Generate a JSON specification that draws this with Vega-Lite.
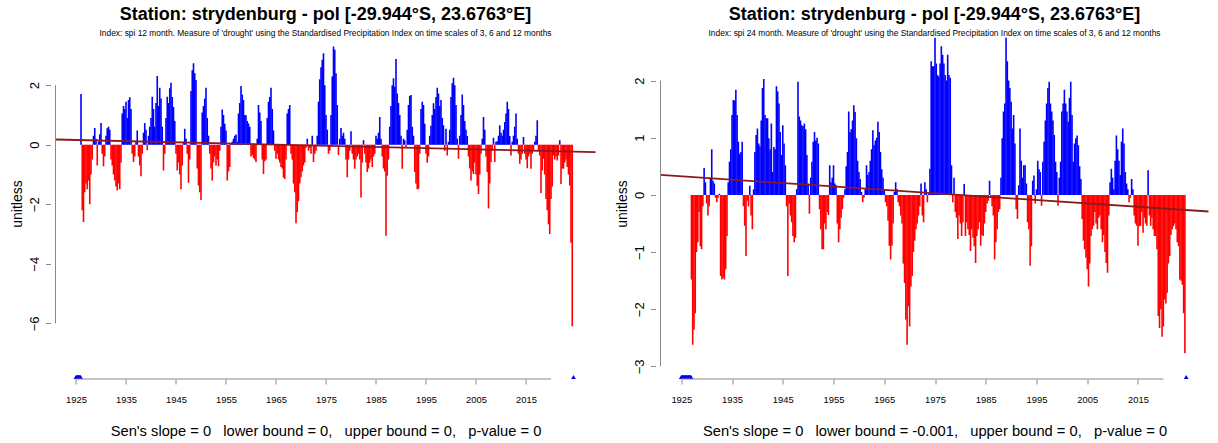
{
  "$schema": "https://vega.github.io/schema/vega-lite/v6.json",
  "background": "white",
  "padding": {"left": 9.5, "top": 5, "right": 0, "bottom": 0},
  "spacing": 15,
  "config": {
    "view": {"stroke": null},
    "font": "Liberation Sans",
    "axis": {"grid": false, "domain": false, "tickColor": "#888", "tickSize": 5, "labelColor": "#000", "titleColor": "#000", "titleFontWeight": "normal", "labelFont": "Liberation Sans", "titleFont": "Liberation Sans"},
    "axisX": {"labelFontSize": 9.4, "labelPadding": 11, "titleFontSize": 14.7, "titlePadding": 20, "labelFlush": false},
    "axisY": {"labelFontSize": 13, "labelAngle": -90, "labelPadding": 4, "titleFontSize": 14, "titlePadding": 4, "format": "d"},
    "title": {"fontSize": 18, "fontWeight": "bold", "subtitleFontSize": 8.4, "anchor": "middle", "offset": -9, "subtitlePadding": 5, "color": "#000", "subtitleColor": "#000", "font": "Liberation Sans", "subtitleFont": "Liberation Sans"}
  },
  "datasets": {
    "spi12": [
      {"t":1926.00,"v":1.7},{"t":1926.25,"v":-2.2},{"t":1926.50,"v":-2.6},{"t":1926.75,"v":-1.6},
      {"t":1927.00,"v":-1.3},{"t":1927.25,"v":-1.5},{"t":1927.50,"v":-1.2},{"t":1927.75,"v":-2.0},
      {"t":1928.00,"v":-1.0},{"t":1928.25,"v":-0.5},{"t":1928.50,"v":0.3},{"t":1928.75,"v":0.56},
      {"t":1929.00,"v":0.2},{"t":1929.25,"v":-0.7},{"t":1929.50,"v":0.1},{"t":1929.75,"v":0.35},
      {"t":1930.00,"v":0.73},{"t":1930.25,"v":-0.3},{"t":1930.50,"v":-0.72},{"t":1930.75,"v":-0.4},
      {"t":1931.00,"v":0.3},{"t":1931.25,"v":0.55},{"t":1931.50,"v":0.6},{"t":1931.75,"v":0.5},
      {"t":1932.00,"v":-0.5},{"t":1932.25,"v":-0.7},{"t":1932.50,"v":-1.0},{"t":1932.75,"v":-1.2},
      {"t":1933.00,"v":-1.4},{"t":1933.25,"v":-1.54},{"t":1933.50,"v":-1.3},{"t":1933.75,"v":-1.5},
      {"t":1934.00,"v":-0.6},{"t":1934.25,"v":1.05},{"t":1934.50,"v":1.3},{"t":1934.75,"v":1.2},
      {"t":1935.00,"v":1.44},{"t":1935.25,"v":0.9},{"t":1935.50,"v":1.5},{"t":1935.75,"v":1.59},
      {"t":1936.00,"v":1.2},{"t":1936.25,"v":-0.3},{"t":1936.50,"v":-0.58},{"t":1936.75,"v":-0.4},
      {"t":1937.00,"v":0.1},{"t":1937.25,"v":0.48},{"t":1937.50,"v":-0.4},{"t":1937.75,"v":-0.7},
      {"t":1938.00,"v":-1.06},{"t":1938.25,"v":-0.3},{"t":1938.50,"v":0.4},{"t":1938.75,"v":0.73},
      {"t":1939.00,"v":0.5},{"t":1939.25,"v":-0.19},{"t":1939.50,"v":0.3},{"t":1939.75,"v":0.6},
      {"t":1940.00,"v":0.9},{"t":1940.25,"v":1.61},{"t":1940.50,"v":1.2},{"t":1940.75,"v":0.6},
      {"t":1941.00,"v":1.4},{"t":1941.25,"v":2.31},{"t":1941.50,"v":1.3},{"t":1941.75,"v":1.91},
      {"t":1942.00,"v":1.55},{"t":1942.25,"v":0.6},{"t":1942.50,"v":-0.87},{"t":1942.75,"v":-0.3},
      {"t":1943.00,"v":0.9},{"t":1943.25,"v":1.61},{"t":1943.50,"v":1.4},{"t":1943.75,"v":1.9},
      {"t":1944.00,"v":2.08},{"t":1944.25,"v":1.6},{"t":1944.50,"v":1.27},{"t":1944.75,"v":0.8},
      {"t":1945.00,"v":-0.3},{"t":1945.25,"v":-0.87},{"t":1945.50,"v":-0.6},{"t":1945.75,"v":-1.0},
      {"t":1946.00,"v":-1.5},{"t":1946.25,"v":-0.7},{"t":1946.50,"v":0.1},{"t":1946.75,"v":0.54},
      {"t":1947.00,"v":0.2},{"t":1947.25,"v":-0.3},{"t":1947.50,"v":-1.28},{"t":1947.75,"v":-0.5},
      {"t":1948.00,"v":1.8},{"t":1948.25,"v":2.5},{"t":1948.50,"v":2.74},{"t":1948.75,"v":2.4},
      {"t":1949.00,"v":2.17},{"t":1949.25,"v":-0.8},{"t":1949.50,"v":-1.37},{"t":1949.75,"v":-1.6},
      {"t":1950.00,"v":-1.86},{"t":1950.25,"v":1.08},{"t":1950.50,"v":1.3},{"t":1950.75,"v":1.55},
      {"t":1951.00,"v":1.91},{"t":1951.25,"v":0.9},{"t":1951.50,"v":0.3},{"t":1951.75,"v":-0.3},
      {"t":1952.00,"v":-0.8},{"t":1952.25,"v":-1.2},{"t":1952.50,"v":-0.6},{"t":1952.75,"v":-0.4},
      {"t":1953.00,"v":-0.7},{"t":1953.25,"v":-0.5},{"t":1953.50,"v":-0.72},{"t":1953.75,"v":-0.2},
      {"t":1954.00,"v":0.6},{"t":1954.25,"v":1.18},{"t":1954.50,"v":1.0},{"t":1954.75,"v":0.7},
      {"t":1955.00,"v":0.48},{"t":1955.25,"v":-1.2},{"t":1955.50,"v":-0.9},{"t":1955.75,"v":-0.75},
      {"t":1956.00,"v":0.05},{"t":1956.25,"v":0.1},{"t":1956.50,"v":0.2},{"t":1956.75,"v":0.3},
      {"t":1957.00,"v":0.34},{"t":1957.25,"v":0.1},{"t":1957.50,"v":1.05},{"t":1957.75,"v":1.4},
      {"t":1958.00,"v":1.97},{"t":1958.25,"v":1.69},{"t":1958.50,"v":1.5},{"t":1958.75,"v":1.0},
      {"t":1959.00,"v":0.99},{"t":1959.25,"v":0.8},{"t":1959.50,"v":0.71},{"t":1959.75,"v":0.6},
      {"t":1960.00,"v":-0.4},{"t":1960.25,"v":-0.35},{"t":1960.50,"v":-0.45},{"t":1960.75,"v":-0.5},
      {"t":1961.00,"v":-0.58},{"t":1961.25,"v":0.2},{"t":1961.50,"v":1.33},{"t":1961.75,"v":1.08},
      {"t":1962.00,"v":0.8},{"t":1962.25,"v":-0.5},{"t":1962.50,"v":-0.98},{"t":1962.75,"v":-0.56},
      {"t":1963.00,"v":-0.5},{"t":1963.25,"v":0.9},{"t":1963.50,"v":1.44},{"t":1963.75,"v":1.6},
      {"t":1964.00,"v":1.91},{"t":1964.25,"v":1.2},{"t":1964.50,"v":0.48},{"t":1964.75,"v":-0.2},
      {"t":1965.00,"v":-0.47},{"t":1965.25,"v":-0.3},{"t":1965.50,"v":-0.5},{"t":1965.75,"v":-0.6},
      {"t":1966.00,"v":-0.75},{"t":1966.25,"v":-0.8},{"t":1966.50,"v":-1.1},{"t":1966.75,"v":-1.15},
      {"t":1967.00,"v":-0.5},{"t":1967.25,"v":1.05},{"t":1967.50,"v":1.2},{"t":1967.75,"v":1.33},
      {"t":1968.00,"v":-0.3},{"t":1968.25,"v":-0.5},{"t":1968.50,"v":-1.3},{"t":1968.75,"v":-1.6},
      {"t":1969.00,"v":-2.64},{"t":1969.25,"v":-2.27},{"t":1969.50,"v":-1.9},{"t":1969.75,"v":-1.3},
      {"t":1970.00,"v":-1.09},{"t":1970.25,"v":-0.9},{"t":1970.50,"v":-0.7},{"t":1970.75,"v":-0.6},
      {"t":1971.00,"v":-0.1},{"t":1971.25,"v":0.2},{"t":1971.50,"v":-0.2},{"t":1971.75,"v":-0.1},
      {"t":1972.00,"v":-0.3},{"t":1972.25,"v":0.3},{"t":1972.50,"v":-0.58},{"t":1972.75,"v":-0.3},
      {"t":1973.00,"v":-0.2},{"t":1973.25,"v":0.3},{"t":1973.50,"v":1.44},{"t":1973.75,"v":2.2},
      {"t":1974.00,"v":2.6},{"t":1974.25,"v":2.85},{"t":1974.50,"v":3.07},{"t":1974.75,"v":2.0},
      {"t":1975.00,"v":1.0},{"t":1975.25,"v":0.5},{"t":1975.50,"v":-0.3},{"t":1975.75,"v":-0.2},
      {"t":1976.00,"v":1.0},{"t":1976.25,"v":2.29},{"t":1976.50,"v":3.3},{"t":1976.75,"v":3.19},
      {"t":1977.00,"v":2.4},{"t":1977.25,"v":1.33},{"t":1977.50,"v":-0.35},{"t":1977.75,"v":0.2},
      {"t":1978.00,"v":0.56},{"t":1978.25,"v":0.3},{"t":1978.50,"v":0.4},{"t":1978.75,"v":0.2},
      {"t":1979.00,"v":-0.5},{"t":1979.25,"v":-1.09},{"t":1979.50,"v":-0.5},{"t":1979.75,"v":-0.2},
      {"t":1980.00,"v":0.45},{"t":1980.25,"v":-0.3},{"t":1980.50,"v":-0.5},{"t":1980.75,"v":-0.81},
      {"t":1981.00,"v":-0.5},{"t":1981.25,"v":-0.4},{"t":1981.50,"v":-0.3},{"t":1981.75,"v":-0.5},
      {"t":1982.00,"v":-1.77},{"t":1982.25,"v":-0.6},{"t":1982.50,"v":0.15},{"t":1982.75,"v":-0.3},
      {"t":1983.00,"v":-0.6},{"t":1983.25,"v":-0.92},{"t":1983.50,"v":-0.8},{"t":1983.75,"v":-0.6},
      {"t":1984.00,"v":-0.5},{"t":1984.25,"v":-0.75},{"t":1984.50,"v":-0.4},{"t":1984.75,"v":-0.3},
      {"t":1985.00,"v":0.3},{"t":1985.25,"v":0.2},{"t":1985.50,"v":0.4},{"t":1985.75,"v":0.93},
      {"t":1986.00,"v":0.2},{"t":1986.25,"v":-0.4},{"t":1986.50,"v":-0.8},{"t":1986.75,"v":-0.9},
      {"t":1987.00,"v":-3.06},{"t":1987.25,"v":-1.04},{"t":1987.50,"v":-0.5},{"t":1987.75,"v":0.6},
      {"t":1988.00,"v":1.3},{"t":1988.25,"v":2.0},{"t":1988.50,"v":2.23},{"t":1988.75,"v":1.95},
      {"t":1989.00,"v":2.88},{"t":1989.25,"v":1.72},{"t":1989.50,"v":1.4},{"t":1989.75,"v":1.0},
      {"t":1990.00,"v":0.3},{"t":1990.25,"v":-0.81},{"t":1990.50,"v":0.2},{"t":1990.75,"v":0.15},
      {"t":1991.00,"v":-0.1},{"t":1991.25,"v":0.5},{"t":1991.50,"v":1.33},{"t":1991.75,"v":1.64},
      {"t":1992.00,"v":1.67},{"t":1992.25,"v":0.6},{"t":1992.50,"v":0.3},{"t":1992.75,"v":-0.92},
      {"t":1993.00,"v":-1.3},{"t":1993.25,"v":-1.5},{"t":1993.50,"v":-1.48},{"t":1993.75,"v":-0.3},
      {"t":1994.00,"v":1.2},{"t":1994.25,"v":1.44},{"t":1994.50,"v":1.33},{"t":1994.75,"v":0.7},
      {"t":1995.00,"v":-0.3},{"t":1995.25,"v":-0.61},{"t":1995.50,"v":-0.4},{"t":1995.75,"v":0.3},
      {"t":1996.00,"v":0.64},{"t":1996.25,"v":1.0},{"t":1996.50,"v":1.39},{"t":1996.75,"v":1.2},
      {"t":1997.00,"v":1.6},{"t":1997.25,"v":1.91},{"t":1997.50,"v":1.72},{"t":1997.75,"v":1.3},
      {"t":1998.00,"v":1.5},{"t":1998.25,"v":0.9},{"t":1998.50,"v":0.65},{"t":1998.75,"v":-0.2},
      {"t":1999.00,"v":0.54},{"t":1999.25,"v":-0.36},{"t":1999.50,"v":0.1},{"t":1999.75,"v":0.5},
      {"t":2000.00,"v":1.6},{"t":2000.25,"v":2.06},{"t":2000.50,"v":2.25},{"t":2000.75,"v":2.0},
      {"t":2001.00,"v":1.33},{"t":2001.25,"v":0.2},{"t":2001.50,"v":-0.47},{"t":2001.75,"v":0.3},
      {"t":2002.00,"v":1.0},{"t":2002.25,"v":1.69},{"t":2002.50,"v":1.33},{"t":2002.75,"v":0.8},
      {"t":2003.00,"v":0.5},{"t":2003.25,"v":0.29},{"t":2003.50,"v":-0.4},{"t":2003.75,"v":-0.8},
      {"t":2004.00,"v":-1.2},{"t":2004.25,"v":-0.9},{"t":2004.50,"v":-0.98},{"t":2004.75,"v":-0.6},
      {"t":2005.00,"v":-1.0},{"t":2005.25,"v":-1.38},{"t":2005.50,"v":-1.66},{"t":2005.75,"v":-1.0},
      {"t":2006.00,"v":-0.3},{"t":2006.25,"v":0.2},{"t":2006.50,"v":0.93},{"t":2006.75,"v":0.5},
      {"t":2007.00,"v":-0.4},{"t":2007.25,"v":-0.92},{"t":2007.50,"v":-2.14},{"t":2007.75,"v":-1.3},
      {"t":2008.00,"v":-0.58},{"t":2008.25,"v":-0.2},{"t":2008.50,"v":0.23},{"t":2008.75,"v":-0.58},
      {"t":2009.00,"v":0.1},{"t":2009.25,"v":0.12},{"t":2009.50,"v":0.3},{"t":2009.75,"v":0.65},
      {"t":2010.00,"v":0.4},{"t":2010.25,"v":0.3},{"t":2010.50,"v":0.5},{"t":2010.75,"v":0.76},
      {"t":2011.00,"v":1.05},{"t":2011.25,"v":1.44},{"t":2011.50,"v":1.2},{"t":2011.75,"v":0.29},
      {"t":2012.00,"v":-0.36},{"t":2012.25,"v":0.1},{"t":2012.50,"v":0.3},{"t":2012.75,"v":0.6},
      {"t":2013.00,"v":1.05},{"t":2013.25,"v":0.2},{"t":2013.50,"v":-0.3},{"t":2013.75,"v":-0.64},
      {"t":2014.00,"v":-0.5},{"t":2014.25,"v":-0.3},{"t":2014.50,"v":0.26},{"t":2014.75,"v":-0.3},
      {"t":2015.00,"v":-0.5},{"t":2015.25,"v":-0.79},{"t":2015.50,"v":-0.4},{"t":2015.75,"v":-0.3},
      {"t":2016.00,"v":-0.81},{"t":2016.25,"v":-0.3},{"t":2016.50,"v":-0.2},{"t":2016.75,"v":0.1},
      {"t":2017.00,"v":0.3},{"t":2017.25,"v":0.82},{"t":2017.50,"v":-0.2},{"t":2017.75,"v":-0.36},
      {"t":2018.00,"v":-1.62},{"t":2018.25,"v":-0.87},{"t":2018.50,"v":-0.47},{"t":2018.75,"v":-1.0},
      {"t":2019.00,"v":-1.82},{"t":2019.25,"v":-2.2},{"t":2019.50,"v":-2.67},{"t":2019.75,"v":-3.0},
      {"t":2020.00,"v":-1.82},{"t":2020.25,"v":-1.4},{"t":2020.50,"v":-0.36},{"t":2020.75,"v":-0.5},
      {"t":2021.00,"v":-0.4},{"t":2021.25,"v":-0.53},{"t":2021.50,"v":-0.36},{"t":2021.75,"v":0.15},
      {"t":2022.00,"v":-1.32},{"t":2022.25,"v":-0.8},{"t":2022.50,"v":-0.81},{"t":2022.75,"v":-0.6},
      {"t":2023.00,"v":-0.5},{"t":2023.25,"v":-0.75},{"t":2023.50,"v":-1.0},{"t":2023.75,"v":-1.37},
      {"t":2024.00,"v":-3.29},{"t":2024.25,"v":-6.1}
    ],
    "spi24": [
      {"t":1927.00,"v":-1.48},{"t":1927.25,"v":-2.62},{"t":1927.50,"v":-2.36},{"t":1927.75,"v":-2.07},
      {"t":1928.00,"v":-1.0},{"t":1928.25,"v":-0.83},{"t":1928.50,"v":-0.3},{"t":1928.75,"v":-0.9},
      {"t":1929.00,"v":-0.95},{"t":1929.25,"v":-0.2},{"t":1929.50,"v":0.47},{"t":1929.75,"v":0.22},
      {"t":1930.00,"v":-0.15},{"t":1930.25,"v":-0.36},{"t":1930.50,"v":-0.2},{"t":1930.75,"v":0.3},
      {"t":1931.00,"v":0.8},{"t":1931.25,"v":0.25},{"t":1931.50,"v":0.2},{"t":1931.75,"v":-0.05},
      {"t":1932.00,"v":-0.13},{"t":1932.25,"v":-0.05},{"t":1932.50,"v":0.02},{"t":1932.75,"v":-1.42},
      {"t":1933.00,"v":-1.48},{"t":1933.25,"v":-1.45},{"t":1933.50,"v":-1.48},{"t":1933.75,"v":-1.3},
      {"t":1934.00,"v":-0.72},{"t":1934.25,"v":0.22},{"t":1934.50,"v":0.58},{"t":1934.75,"v":0.8},
      {"t":1935.00,"v":1.4},{"t":1935.25,"v":1.66},{"t":1935.50,"v":1.65},{"t":1935.75,"v":1.84},
      {"t":1936.00,"v":1.4},{"t":1936.25,"v":0.93},{"t":1936.50,"v":0.72},{"t":1936.75,"v":0.75},
      {"t":1937.00,"v":0.93},{"t":1937.25,"v":-0.2},{"t":1937.50,"v":-0.54},{"t":1937.75,"v":-1.07},
      {"t":1938.00,"v":-0.1},{"t":1938.25,"v":-0.2},{"t":1938.50,"v":0.16},{"t":1938.75,"v":-0.36},
      {"t":1939.00,"v":-0.6},{"t":1939.25,"v":0.1},{"t":1939.50,"v":0.75},{"t":1939.75,"v":1.05},
      {"t":1940.00,"v":1.16},{"t":1940.25,"v":0.9},{"t":1940.50,"v":0.85},{"t":1940.75,"v":1.3},
      {"t":1941.00,"v":1.87},{"t":1941.25,"v":2.03},{"t":1941.50,"v":1.4},{"t":1941.75,"v":1.34},
      {"t":1942.00,"v":1.34},{"t":1942.25,"v":0.99},{"t":1942.50,"v":0.8},{"t":1942.75,"v":1.25},
      {"t":1943.00,"v":0.4},{"t":1943.25,"v":0.84},{"t":1943.50,"v":0.8},{"t":1943.75,"v":1.9},
      {"t":1944.00,"v":1.81},{"t":1944.25,"v":1.6},{"t":1944.50,"v":1.1},{"t":1944.75,"v":0.7},
      {"t":1945.00,"v":1.22},{"t":1945.25,"v":0.9},{"t":1945.50,"v":0.52},{"t":1945.75,"v":-0.2},
      {"t":1946.00,"v":-1.42},{"t":1946.25,"v":-0.15},{"t":1946.50,"v":-0.36},{"t":1946.75,"v":-0.48},
      {"t":1947.00,"v":-0.72},{"t":1947.25,"v":-0.83},{"t":1947.50,"v":-0.75},{"t":1947.75,"v":0.1},
      {"t":1948.00,"v":1.98},{"t":1948.25,"v":1.37},{"t":1948.50,"v":1.3},{"t":1948.75,"v":1.22},
      {"t":1949.00,"v":1.2},{"t":1949.25,"v":1.25},{"t":1949.50,"v":1.15},{"t":1949.75,"v":0.7},
      {"t":1950.00,"v":0.2},{"t":1950.25,"v":-0.33},{"t":1950.50,"v":0.3},{"t":1950.75,"v":0.58},
      {"t":1951.00,"v":0.93},{"t":1951.25,"v":1.1},{"t":1951.50,"v":0.95},{"t":1951.75,"v":1.0},
      {"t":1952.00,"v":0.9},{"t":1952.25,"v":-0.25},{"t":1952.50,"v":-0.6},{"t":1952.75,"v":-0.95},
      {"t":1953.00,"v":-0.95},{"t":1953.25,"v":-0.5},{"t":1953.50,"v":-0.6},{"t":1953.75,"v":-0.3},
      {"t":1954.00,"v":-0.35},{"t":1954.25,"v":0.52},{"t":1954.50,"v":0.22},{"t":1954.75,"v":0.3},
      {"t":1955.00,"v":0.52},{"t":1955.25,"v":0.2},{"t":1955.50,"v":0.17},{"t":1955.75,"v":-0.5},
      {"t":1956.00,"v":-0.83},{"t":1956.25,"v":-0.6},{"t":1956.50,"v":-0.4},{"t":1956.75,"v":-0.25},
      {"t":1957.00,"v":-0.05},{"t":1957.25,"v":0.1},{"t":1957.50,"v":0.5},{"t":1957.75,"v":0.75},
      {"t":1958.00,"v":1.46},{"t":1958.25,"v":1.1},{"t":1958.50,"v":1.15},{"t":1958.75,"v":1.3},
      {"t":1959.00,"v":1.57},{"t":1959.25,"v":1.45},{"t":1959.50,"v":0.99},{"t":1959.75,"v":0.6},
      {"t":1960.00,"v":0.4},{"t":1960.25,"v":0.28},{"t":1960.50,"v":0.05},{"t":1960.75,"v":-0.13},
      {"t":1961.00,"v":-0.05},{"t":1961.25,"v":0.1},{"t":1961.50,"v":0.52},{"t":1961.75,"v":0.35},
      {"t":1962.00,"v":0.4},{"t":1962.25,"v":0.6},{"t":1962.50,"v":0.8},{"t":1962.75,"v":1.13},
      {"t":1963.00,"v":0.87},{"t":1963.25,"v":0.95},{"t":1963.50,"v":1.0},{"t":1963.75,"v":1.28},
      {"t":1964.00,"v":1.1},{"t":1964.25,"v":0.75},{"t":1964.50,"v":0.45},{"t":1964.75,"v":0.3},
      {"t":1965.00,"v":0.1},{"t":1965.25,"v":-0.13},{"t":1965.50,"v":-0.2},{"t":1965.75,"v":-0.45},
      {"t":1966.00,"v":-0.89},{"t":1966.25,"v":-1.13},{"t":1966.50,"v":-0.89},{"t":1966.75,"v":-0.5},
      {"t":1967.00,"v":0.05},{"t":1967.25,"v":0.22},{"t":1967.50,"v":0.1},{"t":1967.75,"v":-0.13},
      {"t":1968.00,"v":-0.2},{"t":1968.25,"v":-0.36},{"t":1968.50,"v":-0.5},{"t":1968.75,"v":-1.2},
      {"t":1969.00,"v":-1.54},{"t":1969.25,"v":-2.18},{"t":1969.50,"v":-2.62},{"t":1969.75,"v":-1.95},
      {"t":1970.00,"v":-2.3},{"t":1970.25,"v":-1.6},{"t":1970.50,"v":-1.42},{"t":1970.75,"v":-1.0},
      {"t":1971.00,"v":-0.8},{"t":1971.25,"v":-0.6},{"t":1971.50,"v":-0.5},{"t":1971.75,"v":-0.36},
      {"t":1972.00,"v":-0.2},{"t":1972.25,"v":0.2},{"t":1972.50,"v":-0.36},{"t":1972.75,"v":-0.48},
      {"t":1973.00,"v":0.22},{"t":1973.25,"v":0.1},{"t":1973.50,"v":-0.13},{"t":1973.75,"v":0.02},
      {"t":1974.00,"v":0.46},{"t":1974.25,"v":2.34},{"t":1974.50,"v":2.25},{"t":1974.75,"v":2.25},
      {"t":1975.00,"v":2.75},{"t":1975.25,"v":2.3},{"t":1975.50,"v":2.1},{"t":1975.75,"v":2.07},
      {"t":1976.00,"v":2.3},{"t":1976.25,"v":2.6},{"t":1976.50,"v":2.45},{"t":1976.75,"v":2.3},
      {"t":1977.00,"v":2.1},{"t":1977.25,"v":2.0},{"t":1977.50,"v":2.45},{"t":1977.75,"v":2.1},
      {"t":1978.00,"v":2.05},{"t":1978.25,"v":0.52},{"t":1978.50,"v":-0.13},{"t":1978.75,"v":0.3},
      {"t":1979.00,"v":-0.3},{"t":1979.25,"v":-0.4},{"t":1979.50,"v":-0.77},{"t":1979.75,"v":-0.36},
      {"t":1980.00,"v":-0.5},{"t":1980.25,"v":-0.72},{"t":1980.50,"v":-0.48},{"t":1980.75,"v":0.19},
      {"t":1981.00,"v":-0.72},{"t":1981.25,"v":-0.48},{"t":1981.50,"v":-0.6},{"t":1981.75,"v":-0.7},
      {"t":1982.00,"v":-0.98},{"t":1982.25,"v":-0.6},{"t":1982.50,"v":-0.75},{"t":1982.75,"v":-0.9},
      {"t":1983.00,"v":-1.19},{"t":1983.25,"v":-0.72},{"t":1983.50,"v":-0.6},{"t":1983.75,"v":-0.48},
      {"t":1984.00,"v":-0.89},{"t":1984.25,"v":-0.7},{"t":1984.50,"v":-0.72},{"t":1984.75,"v":-0.5},
      {"t":1985.00,"v":-0.3},{"t":1985.25,"v":-0.15},{"t":1985.50,"v":-0.1},{"t":1985.75,"v":0.25},
      {"t":1986.00,"v":-0.05},{"t":1986.25,"v":-0.2},{"t":1986.50,"v":-0.36},{"t":1986.75,"v":-1.13},
      {"t":1987.00,"v":-0.83},{"t":1987.25,"v":-0.6},{"t":1987.50,"v":-0.3},{"t":1987.75,"v":-0.25},
      {"t":1988.00,"v":0.3},{"t":1988.25,"v":0.99},{"t":1988.50,"v":1.46},{"t":1988.75,"v":1.6},
      {"t":1989.00,"v":2.75},{"t":1989.25,"v":2.34},{"t":1989.50,"v":2.0},{"t":1989.75,"v":1.87},
      {"t":1990.00,"v":1.63},{"t":1990.25,"v":1.16},{"t":1990.50,"v":1.4},{"t":1990.75,"v":0.9},
      {"t":1991.00,"v":-0.25},{"t":1991.25,"v":-0.42},{"t":1991.50,"v":0.17},{"t":1991.75,"v":1.16},
      {"t":1992.00,"v":0.6},{"t":1992.25,"v":0.3},{"t":1992.50,"v":0.52},{"t":1992.75,"v":0.52},
      {"t":1993.00,"v":0.2},{"t":1993.25,"v":-0.48},{"t":1993.50,"v":-0.6},{"t":1993.75,"v":-1.24},
      {"t":1994.00,"v":-0.9},{"t":1994.25,"v":0.25},{"t":1994.50,"v":0.34},{"t":1994.75,"v":-0.15},
      {"t":1995.00,"v":0.1},{"t":1995.25,"v":0.6},{"t":1995.50,"v":0.45},{"t":1995.75,"v":0.4},
      {"t":1996.00,"v":-0.19},{"t":1996.25,"v":0.58},{"t":1996.50,"v":0.93},{"t":1996.75,"v":1.3},
      {"t":1997.00,"v":1.6},{"t":1997.25,"v":1.87},{"t":1997.50,"v":1.98},{"t":1997.75,"v":1.6},
      {"t":1998.00,"v":1.46},{"t":1998.25,"v":1.3},{"t":1998.50,"v":1.05},{"t":1998.75,"v":0.58},
      {"t":1999.00,"v":0.4},{"t":1999.25,"v":-0.19},{"t":1999.50,"v":0.3},{"t":1999.75,"v":0.58},
      {"t":2000.00,"v":1.46},{"t":2000.25,"v":1.6},{"t":2000.50,"v":1.84},{"t":2000.75,"v":1.6},
      {"t":2001.00,"v":1.46},{"t":2001.25,"v":1.28},{"t":2001.50,"v":1.7},{"t":2001.75,"v":1.98},
      {"t":2002.00,"v":1.4},{"t":2002.25,"v":0.58},{"t":2002.50,"v":0.9},{"t":2002.75,"v":0.99},
      {"t":2003.00,"v":1.04},{"t":2003.25,"v":0.87},{"t":2003.50,"v":0.5},{"t":2003.75,"v":0.28},
      {"t":2004.00,"v":-0.42},{"t":2004.25,"v":-0.8},{"t":2004.50,"v":-0.95},{"t":2004.75,"v":-1.1},
      {"t":2005.00,"v":-1.3},{"t":2005.25,"v":-1.6},{"t":2005.50,"v":-1.2},{"t":2005.75,"v":-0.72},
      {"t":2006.00,"v":-0.6},{"t":2006.25,"v":-0.54},{"t":2006.50,"v":-0.3},{"t":2006.75,"v":-0.5},
      {"t":2007.00,"v":-0.6},{"t":2007.25,"v":-0.4},{"t":2007.50,"v":-0.36},{"t":2007.75,"v":-0.6},
      {"t":2008.00,"v":-0.83},{"t":2008.25,"v":-0.7},{"t":2008.50,"v":-1.0},{"t":2008.75,"v":-1.19},
      {"t":2009.00,"v":-1.36},{"t":2009.25,"v":-0.36},{"t":2009.50,"v":0.22},{"t":2009.75,"v":0.46},
      {"t":2010.00,"v":0.3},{"t":2010.25,"v":0.1},{"t":2010.50,"v":0.6},{"t":2010.75,"v":1.04},
      {"t":2011.00,"v":0.8},{"t":2011.25,"v":0.6},{"t":2011.50,"v":0.35},{"t":2011.75,"v":0.93},
      {"t":2012.00,"v":1.16},{"t":2012.25,"v":0.9},{"t":2012.50,"v":0.4},{"t":2012.75,"v":0.2},
      {"t":2013.00,"v":0.1},{"t":2013.25,"v":-0.13},{"t":2013.50,"v":-0.05},{"t":2013.75,"v":0.28},
      {"t":2014.00,"v":0.1},{"t":2014.25,"v":-0.36},{"t":2014.50,"v":-0.5},{"t":2014.75,"v":-0.54},
      {"t":2015.00,"v":-0.89},{"t":2015.25,"v":-0.55},{"t":2015.50,"v":-0.54},{"t":2015.75,"v":-0.3},
      {"t":2016.00,"v":-0.66},{"t":2016.25,"v":-0.4},{"t":2016.50,"v":-0.5},{"t":2016.75,"v":-0.54},
      {"t":2017.00,"v":0.43},{"t":2017.25,"v":-0.36},{"t":2017.50,"v":-0.54},{"t":2017.75,"v":-0.4},
      {"t":2018.00,"v":-0.6},{"t":2018.25,"v":-0.72},{"t":2018.50,"v":-0.72},{"t":2018.75,"v":-0.95},
      {"t":2019.00,"v":-2.12},{"t":2019.25,"v":-2.33},{"t":2019.50,"v":-2.0},{"t":2019.75,"v":-2.48},
      {"t":2020.00,"v":-2.3},{"t":2020.25,"v":-1.83},{"t":2020.50,"v":-1.9},{"t":2020.75,"v":-1.71},
      {"t":2021.00,"v":-1.2},{"t":2021.25,"v":-1.07},{"t":2021.50,"v":-0.7},{"t":2021.75,"v":-0.6},
      {"t":2022.00,"v":-0.55},{"t":2022.25,"v":-0.5},{"t":2022.50,"v":-0.6},{"t":2022.75,"v":-0.83},
      {"t":2023.00,"v":-0.9},{"t":2023.25,"v":-1.48},{"t":2023.50,"v":-1.5},{"t":2023.75,"v":-1.57},
      {"t":2024.00,"v":-2.07},{"t":2024.25,"v":-2.77}
    ],
    "trend12": [{"t":1920.9,"v":0.175},{"t":2028.9,"v":-0.25}],
    "trend24": [{"t":1920.9,"v":0.35},{"t":2028.9,"v":-0.29}],
    "na12": [
      {"t":1925.0},{"t":1925.083},{"t":1925.167},{"t":1925.25},{"t":1925.333},{"t":1925.417},
      {"t":1925.5},{"t":1925.583},{"t":1925.667},{"t":1925.75},{"t":1925.833},{"t":1925.917},
      {"t":2024.5}
    ],
    "na24": [
      {"t":1925.0},{"t":1925.083},{"t":1925.167},{"t":1925.25},{"t":1925.333},{"t":1925.417},
      {"t":1925.5},{"t":1925.583},{"t":1925.667},{"t":1925.75},{"t":1925.833},{"t":1925.917},
      {"t":1926.0},{"t":1926.083},{"t":1926.167},{"t":1926.25},{"t":1926.333},{"t":1926.417},
      {"t":1926.5},{"t":1926.583},{"t":1926.667},{"t":1926.75},{"t":1926.833},{"t":1926.917},
      {"t":2024.5}
    ]
  },
  "hconcat": [
    {
      "width": 550,
      "height": 351,
      "title": {"text": "Station: strydenburg - pol [-29.944°S, 23.6763°E]", "subtitle": "Index: spi 12 month. Measure of 'drought' using the Standardised Precipitation Index on time scales of 3, 6 and 12 months"},
      "layer": [
        {
          "data": {"name": "spi12"},
          "mark": {"type": "bar", "size": 1.6, "clip": true},
          "encoding": {
            "x": {"field": "t", "type": "quantitative", "scale": {"domain": [1920.9, 2028.9], "nice": false, "zero": false},
                  "axis": {"values": [1925,1930,1935,1940,1945,1950,1955,1960,1965,1970,1975,1980,1985,1990,1995,2000,2005,2010,2015,2020], "format": "d", "labelExpr": "(datum.value - 1925) % 10 == 0 ? datum.label : ''", "title": "Sen's slope = 0 \u00a0 lower bound = 0, \u00a0 upper bound = 0, \u00a0 p-value = 0"}},
            "y": {"field": "v", "type": "quantitative", "scale": {"domain": [-7.87, 3.92], "nice": false}, "axis": {"values": [-6,-4,-2,0,2], "title": "unitless"}},
            "color": {"field": "v", "type": "quantitative", "scale": {"type": "threshold", "domain": [0], "range": ["#FF0000", "#0000FF"]}, "legend": null}
          }
        },
        {
          "data": {"name": "trend12"},
          "mark": {"type": "line", "color": "#8B1A1A", "strokeWidth": 1.8, "clip": true},
          "encoding": {"x": {"field": "t", "type": "quantitative"}, "y": {"field": "v", "type": "quantitative"}}
        },
        {
          "data": {"name": "na12"},
          "mark": {"type": "point", "shape": "triangle-up", "filled": true, "color": "#0000FF", "size": 90, "opacity": 1, "clip": true},
          "encoding": {"x": {"field": "t", "type": "quantitative"}, "y": {"value": "height"}}
        },
        {
          "data": {"values": [{}]},
          "mark": {"type": "rule", "color": "#888", "strokeWidth": 1},
          "encoding": {"x": {"datum": 1925}, "x2": {"datum": 2020}, "y": {"value": "height"}}
        },
        {
          "data": {"values": [{}]},
          "mark": {"type": "rule", "color": "#888", "strokeWidth": 1},
          "encoding": {"x": {"datum": 1920.9}, "y": {"datum": -6}, "y2": {"datum": 2}}
        }
      ]
    },
    {
      "width": 558,
      "height": 351,
      "title": {"text": "Station: strydenburg - pol [-29.944°S, 23.6763°E]", "subtitle": "Index: spi 24 month. Measure of 'drought' using the Standardised Precipitation Index on time scales of 3, 6 and 12 months"},
      "layer": [
        {
          "data": {"name": "spi24"},
          "mark": {"type": "bar", "size": 1.6, "clip": true},
          "encoding": {
            "x": {"field": "t", "type": "quantitative", "scale": {"domain": [1920.9, 2028.9], "nice": false, "zero": false},
                  "axis": {"values": [1925,1930,1935,1940,1945,1950,1955,1960,1965,1970,1975,1980,1985,1990,1995,2000,2005,2010,2015,2020], "format": "d", "labelExpr": "(datum.value - 1925) % 10 == 0 ? datum.label : ''", "title": "Sen's slope = 0 \u00a0 lower bound = -0.001, \u00a0 upper bound = 0, \u00a0 p-value = 0"}},
            "y": {"field": "v", "type": "quantitative", "scale": {"domain": [-3.22, 2.92], "nice": false}, "axis": {"values": [-3,-2,-1,0,1,2], "title": "unitless"}},
            "color": {"field": "v", "type": "quantitative", "scale": {"type": "threshold", "domain": [0], "range": ["#FF0000", "#0000FF"]}, "legend": null}
          }
        },
        {
          "data": {"name": "trend24"},
          "mark": {"type": "line", "color": "#8B1A1A", "strokeWidth": 1.8, "clip": true},
          "encoding": {"x": {"field": "t", "type": "quantitative"}, "y": {"field": "v", "type": "quantitative"}}
        },
        {
          "data": {"name": "na24"},
          "mark": {"type": "point", "shape": "triangle-up", "filled": true, "color": "#0000FF", "size": 90, "opacity": 1, "clip": true},
          "encoding": {"x": {"field": "t", "type": "quantitative"}, "y": {"value": "height"}}
        },
        {
          "data": {"values": [{}]},
          "mark": {"type": "rule", "color": "#888", "strokeWidth": 1},
          "encoding": {"x": {"datum": 1925}, "x2": {"datum": 2020}, "y": {"value": "height"}}
        },
        {
          "data": {"values": [{}]},
          "mark": {"type": "rule", "color": "#888", "strokeWidth": 1},
          "encoding": {"x": {"datum": 1920.9}, "y": {"datum": -3}, "y2": {"datum": 2}}
        }
      ]
    }
  ]
}
